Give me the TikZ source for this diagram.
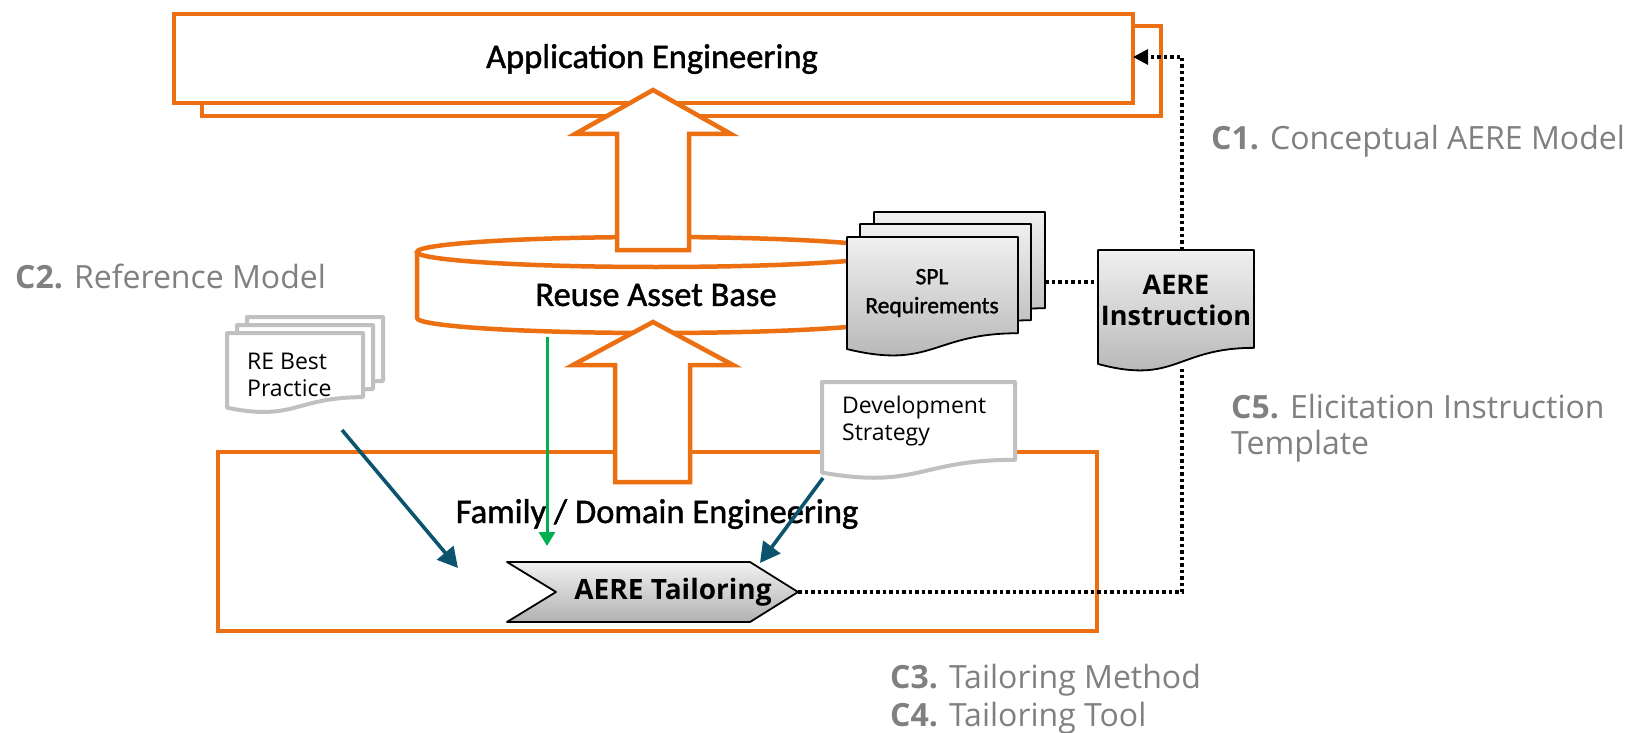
\documentclass[tikz,border=0pt]{standalone}
\usepackage{fontspec}
\setmainfont{Open Sans}
\newfontfamily\calf[FakeBold=1.3]{Carlito}
\usetikzlibrary{arrows.meta}
\definecolor{orng}{RGB}{236,112,18}
\definecolor{lbl}{RGB}{128,128,128}
\definecolor{tealc}{RGB}{12,84,110}
\definecolor{grn}{RGB}{0,176,80}
\definecolor{docgrey}{RGB}{192,192,192}
\definecolor{gtop}{RGB}{240,240,240}
\definecolor{gbot}{RGB}{178,178,178}
\newcommand\drawdoc[5]{%
  \pgfmathsetmacro\dcR{#3+0.802*#5}%
  \pgfmathsetmacro\dcL{#3+0.934*#5}%
  \pgfmathsetmacro\dcC{#3+1.107*#5}%
  \pgfmathsetmacro\dcM{#2+0.5*#4}%
  \pgfmathsetmacro\dcX{#2+#4}%
  \draw[#1] (#2,#3) -- (\dcX,#3) -- (\dcX,\dcR) .. controls (\dcM,\dcR) and (\dcM,\dcC) .. (#2,\dcL) -- cycle;}
\tikzset{
  obox/.style={draw=orng, line width=4.5pt, fill=white, line join=miter},
  olin/.style={draw=orng, line width=4.5pt},
  gdoc/.style={draw=black, line width=1.8pt, top color=gtop, bottom color=gbot, line join=round},
  wdoc/.style={draw=docgrey, line width=4pt, fill=white, line join=round},
  dotline/.style={draw=black, line width=3.2pt, dash pattern=on 3.5pt off 3pt},
  tealarr/.style={draw=tealc, line width=3.6pt, -{Triangle[length=20pt,width=21pt]}},
  grnarr/.style={draw=grn, line width=3pt, -{Triangle[length=14pt,width=16pt]}},
  bigtxt/.style={font=\calf\fontsize{34.5}{40}\selectfont, inner sep=0pt},
  grey/.style={text=lbl, font=\fontsize{32}{38}\selectfont, inner sep=0pt, anchor=west, align=left},
  doctxt/.style={font=\fontsize{23}{27.5}\selectfont, inner sep=0pt, anchor=west, align=left},
}
\begin{document}
\begin{tikzpicture}[x=1pt,y=-1pt]
\useasboundingbox (0,0) rectangle (1644,733);
% Application Engineering
\draw[obox] (202,26) rectangle (1161,116);
\draw[obox] (174,14) rectangle (1133,103);
\node[bigtxt] (appt) at (652,59) {Application Engineering};
\coordinate (appR) at (1133,57);
% Reuse Asset Base cylinder
\fill[white] (417,252) -- (417,318) .. controls (417,326.3) and (524,333) .. (656,333)
   .. controls (788,333) and (895,326.3) .. (895,318) -- (895,252) -- cycle;
\draw[olin] (417,252) -- (417,318) .. controls (417,326.3) and (524,333) .. (656,333)
   .. controls (788,333) and (895,326.3) .. (895,318) -- (895,252);
\draw[obox] (656,252) ellipse[x radius=239, y radius=15];
\node[bigtxt] (rab) at (656,295) {Reuse Asset Base};
% upper big arrow
\draw[obox] (653,90) -- (731,134) -- (689,134) -- (689,250) -- (617,250) -- (617,134) -- (575,134) -- cycle;
% Family box
\draw[obox] (218,452) rectangle (1097,631);
\node[bigtxt] (fam) at (657,514) {Family / Domain Engineering};
% lower big arrow
\draw[obox] (653,322) -- (733,365) -- (690,365) -- (690,482) -- (615,482) -- (615,365) -- (573,365) -- cycle;
% SPL requirements stack
\drawdoc{gdoc}{874}{212}{171}{120}
\drawdoc{gdoc}{860}{224}{171}{120}
\drawdoc{gdoc}{847}{237}{171}{120}
\node[font=\calf\fontsize{23.5}{29}\selectfont, align=center, inner sep=0pt] (spl) at (932,293) {SPL\\Requirements};
\coordinate (splR) at (1045,282);
% AERE Instruction
\drawdoc{gdoc}{1098}{250}{156}{122}
\node[font=\bfseries\fontsize{27}{31}\selectfont, align=center, inner sep=0pt] (instr) at (1176,300) {AERE\\Instruction};
\coordinate (instrL) at (1098,282);
\coordinate (instrT) at (1182,250);
\coordinate (instrB) at (1182,369);
% RE Best Practice stack
\drawdoc{wdoc}{247}{317}{136}{80}
\drawdoc{wdoc}{237}{325}{136}{80}
\drawdoc{wdoc}{227}{333}{136}{80}
\node[doctxt] (re) at (247,375) {RE Best\\Practice};
\coordinate (reB) at (342,430);
% Development Strategy
\drawdoc{wdoc}{822}{382}{193}{97}
\node[doctxt] (dev) at (842,421) {Development\\Strategy};
\coordinate (devB) at (823,478);
% AERE Tailoring chevron
\draw[gdoc] (507,562) -- (750,562) -- (798,592) -- (750,622) -- (507,622) -- (556,592) -- cycle;
\node[font=\bfseries\fontsize{28}{32}\selectfont, inner sep=0pt] (tail) at (673,592) {AERE Tailoring};
\coordinate (tailTip) at (798,592);
\coordinate (tailL) at (458,568);
\coordinate (tailT) at (760,563);
% green arrow
\coordinate (rabB) at (547,337);
\coordinate (grnEnd) at (547,546);
\draw[grnarr] (rabB) -- (grnEnd);
% teal arrows
\draw[tealarr] (reB) -- (tailL);
\draw[tealarr] (devB) -- (tailT);
% dotted connectors
\draw[dotline] (splR) -- (instrL);
\draw[dotline, -{Triangle[length=15pt,width=15pt]}] (instrT) |- (appR);
\draw[dotline] (tailTip) -| (instrB);
% grey labels
\node[grey] (c1) at (1211,141) {\textbf{C1.} Conceptual AERE Model};
\node[grey] (c2) at (15,276) {\textbf{C2.} Reference Model};
\node[grey, font=\fontsize{32}{36}\selectfont] (c5) at (1231,428) {\textbf{C5.} Elicitation Instruction\\Template};
\node[grey] (c34) at (890,699) {\textbf{C3.} Tailoring Method\\\textbf{C4.} Tailoring Tool};
\end{tikzpicture}
\end{document}
